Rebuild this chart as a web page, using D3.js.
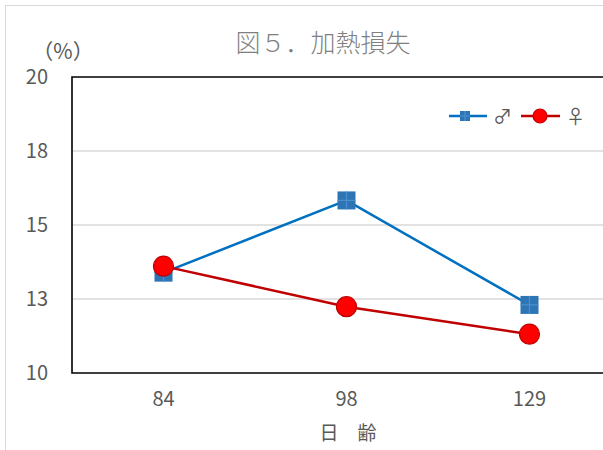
<!DOCTYPE html>
<html>
<head>
<meta charset="utf-8">
<script src="https://cdn.jsdelivr.net/npm/d3@7"></script>
<style>
  body { margin: 0; background: #fff; }
  text { font-family: "Noto Sans CJK JP", "Noto Sans", sans-serif; fill: #595959; }
</style>
</head>
<body>
<div id="container"></div>
<script>
// data
let days = ["84", "98", "129"];
let male = [13.39, 15.83, 12.30];
let female = [13.61, 12.24, 11.31];
let yTicks = [10, 12.5, 15, 17.5, 20];
let yTickLabels = ["10", "13", "15", "18", "20"];

let w = 603;
let h = 450;
let plotL = 72, plotT = 77, plotR = 621, plotB = 373;

let viz = d3.select("#container")
  .append("svg")
    .attr("width", w)
    .attr("height", h)
    .style("display", "block");

// outer chart frame
viz.append("rect")
  .attr("x", 5.5).attr("y", 5.5)
  .attr("width", 700).attr("height", 600)
  .attr("fill", "none")
  .attr("stroke", "#d9d9d9");

let xScale = d3.scaleBand().domain(days).range([plotL, plotR]);
let yScale = d3.scaleLinear().domain([10, 20]).range([plotB, plotT]);

// gridlines
viz.append("g").selectAll("line")
  .data(yTicks.slice(1, -1)).enter()
  .append("line")
    .attr("x1", plotL).attr("x2", plotR)
    .attr("y1", d => yScale(d)).attr("y2", d => yScale(d))
    .attr("stroke", "#d9d9d9").attr("stroke-width", 1.5);

// plot frame (left, top, bottom black)
viz.append("path")
  .attr("d", `M${plotR},${plotT}H${plotL}V${plotB}H${plotR}`)
  .attr("fill", "none").attr("stroke", "#000").attr("stroke-width", 1.6);

// y axis labels
let yAxis = d3.axisLeft(yScale).tickValues(yTicks)
  .tickFormat((d, i) => yTickLabels[i]).tickSize(0).tickPadding(24);
let yAxisGroup = viz.append("g").attr("transform", `translate(${plotL},0)`).call(yAxis);
yAxisGroup.select(".domain").remove();
yAxisGroup.selectAll("text").style("font-size", "20px").attr("fill", "#595959");

// x axis labels
let xAxis = d3.axisBottom(xScale).tickSize(0).tickPadding(19);
let xAxisGroup = viz.append("g").attr("transform", `translate(0,${plotB})`).call(xAxis);
xAxisGroup.select(".domain").remove();
xAxisGroup.selectAll("text").style("font-size", "20px").attr("fill", "#595959");

let cx = d => xScale(d) + xScale.bandwidth() / 2;

// lines
let line = d3.line().x((d, i) => cx(days[i])).y(d => yScale(d));
viz.append("path").datum(male).attr("d", line)
  .attr("fill", "none").attr("stroke", "#0070C0").attr("stroke-width", 2.5);
viz.append("path").datum(female).attr("d", line)
  .attr("fill", "none").attr("stroke", "#C00000").attr("stroke-width", 2.5);

function squareMarker(g, x, y, s) {
  g.append("rect").attr("x", x - s / 2).attr("y", y - s / 2)
    .attr("width", s).attr("height", s).attr("fill", "#2E75B6");
  g.append("path").attr("d", `M${x},${y - s / 2}V${y + s / 2}M${x - s / 2},${y}H${x + s / 2}`)
    .attr("stroke", "#4b8fcf").attr("stroke-width", 1.2);
}
function circleMarker(g, x, y, r) {
  g.append("circle").attr("cx", x).attr("cy", y).attr("r", r)
    .attr("fill", "#FF0000").attr("stroke", "#C00000").attr("stroke-width", 1.2);
}

let markers = viz.append("g");
male.forEach((v, i) => squareMarker(markers, cx(days[i]), yScale(v), 18));
female.forEach((v, i) => circleMarker(markers, cx(days[i]), yScale(v), 10));

// legend
let lg = viz.append("g");
lg.append("line").attr("x1", 449).attr("x2", 487).attr("y1", 116).attr("y2", 116)
  .attr("stroke", "#0070C0").attr("stroke-width", 2.5);
squareMarker(lg, 465, 116, 10);
lg.append("text").attr("x", 493).attr("y", 124).style("font-size", "19px").attr("fill", "#7f7f7f").text("♂");
lg.append("line").attr("x1", 521).attr("x2", 560).attr("y1", 116).attr("y2", 116)
  .attr("stroke", "#C00000").attr("stroke-width", 2.5);
circleMarker(lg, 540, 116, 7);
lg.append("text").attr("x", 566).attr("y", 124).style("font-size", "19px").attr("fill", "#7f7f7f").text("♀");

// titles
viz.append("text").attr("x", 323).attr("y", 52).attr("text-anchor", "middle")
  .style("font-size", "25px").style("font-weight", 300).style("fill", "#7f7f7f")
  .text("図５．加熱損失");
viz.append("text").attr("x", 63).attr("y", 59).attr("text-anchor", "middle")
  .style("font-size", "21px").text("（%）");
viz.append("text").attr("x", 348).attr("y", 440).attr("text-anchor", "middle")
  .style("font-size", "19px").text("日　齢");
</script>
</body>
</html>
